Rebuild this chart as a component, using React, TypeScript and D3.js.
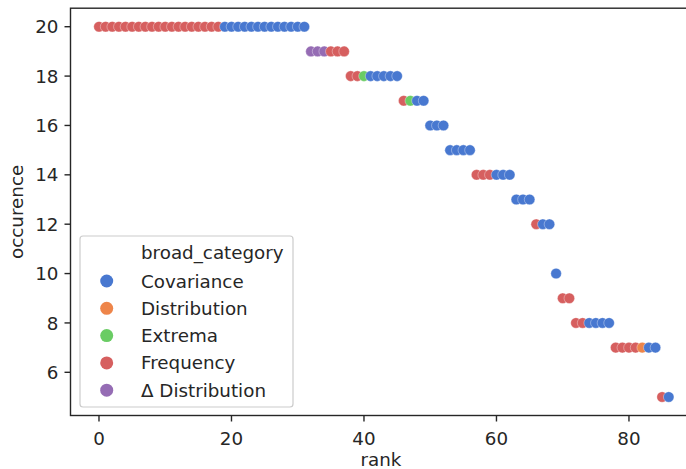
import React from "react";
import * as d3 from "d3";

// Rank of each feature and how often it occurs, with its broad category.
const ranks: number[] = [
  0, 1, 2, 3, 4, 5, 6, 7, 8, 9, 10, 11, 12, 13, 14, 15, 16, 17, 18, 19, 20, 21,
  22, 23, 24, 25, 26, 27, 28, 29, 30, 31, 32, 33, 34, 35, 36, 37, 38, 39, 40, 41,
  42, 43, 44, 45, 46, 47, 48, 49, 50, 51, 52, 53, 54, 55, 56, 57, 58, 59, 60, 61,
  62, 63, 64, 65, 66, 67, 68, 69, 70, 71, 72, 73, 74, 75, 76, 77, 78, 79, 80, 81,
  82, 83, 84, 85, 86,
];

const occurence: number[] = [
  20, 20, 20, 20, 20, 20, 20, 20, 20, 20, 20, 20, 20, 20, 20, 20, 20, 20, 20,
  20, 20, 20, 20, 20, 20, 20, 20, 20, 20, 20, 20, 20,
  19, 19, 19, 19, 19, 19,
  18, 18, 18, 18, 18, 18, 18, 18,
  17, 17, 17, 17,
  16, 16, 16,
  15, 15, 15, 15,
  14, 14, 14, 14, 14, 14,
  13, 13, 13,
  12, 12, 12,
  10,
  9, 9,
  8, 8, 8, 8, 8, 8,
  7, 7, 7, 7, 7, 7, 7,
  5, 5,
];

const broadCategory: string[] = [
  "Frequency", "Frequency", "Frequency", "Frequency", "Frequency", "Frequency",
  "Frequency", "Frequency", "Frequency", "Frequency", "Frequency", "Frequency",
  "Frequency", "Frequency", "Frequency", "Frequency", "Frequency", "Frequency",
  "Frequency",
  "Covariance", "Covariance", "Covariance", "Covariance", "Covariance",
  "Covariance", "Covariance", "Covariance", "Covariance", "Covariance",
  "Covariance", "Covariance", "Covariance",
  "Δ Distribution", "Δ Distribution", "Δ Distribution",
  "Frequency", "Frequency", "Frequency",
  "Frequency", "Frequency", "Extrema",
  "Covariance", "Covariance", "Covariance", "Covariance", "Covariance",
  "Frequency", "Extrema", "Covariance", "Covariance",
  "Covariance", "Covariance", "Covariance",
  "Covariance", "Covariance", "Covariance", "Covariance",
  "Frequency", "Frequency", "Frequency", "Covariance", "Covariance", "Covariance",
  "Covariance", "Covariance", "Covariance",
  "Frequency", "Covariance", "Covariance",
  "Covariance",
  "Frequency", "Frequency",
  "Frequency", "Frequency", "Covariance", "Covariance", "Covariance", "Covariance",
  "Frequency", "Frequency", "Frequency", "Frequency", "Distribution",
  "Covariance", "Covariance",
  "Frequency", "Covariance",
];

const categories: string[] = [
  "Covariance",
  "Distribution",
  "Extrema",
  "Frequency",
  "Δ Distribution",
];
const palette: string[] = ["#4878d0", "#ee854a", "#6acc64", "#d65f5f", "#956cb4"];

const xTicks: number[] = [0, 20, 40, 60, 80];
const yTicks: number[] = [6, 8, 10, 12, 14, 16, 18, 20];

const W = 686;
const H = 469;
const FONT = "'DejaVu Sans', sans-serif";
const FS = 18.3;
const INK = "#262626";

export default function App() {
  const xMin = d3.min(ranks)!;
  const xMax = d3.max(ranks)!;
  const yMin = d3.min(occurence)!;
  const yMax = d3.max(occurence)!;
  const xPad = (xMax - xMin) * 0.05;
  const yPad = (yMax - yMin) * 0.05;

  const x = d3
    .scaleLinear()
    .domain([xMin - xPad, xMax + xPad])
    .range([70.5, 697.2]);
  const y = d3
    .scaleLinear()
    .domain([yMin - yPad, yMax + yPad])
    .range([415.5, 8.2]);
  const color = d3.scaleOrdinal<string, string>().domain(categories).range(palette);

  const [left, right] = x.range();
  const [bottom, top] = y.range();

  const points = ranks.map((r, i) => ({
    r,
    v: occurence[i],
    c: broadCategory[i],
  }));

  const legendX = 80;
  const legendY = 236;
  const rowH = 27.3;

  return (
    <svg
      width={W}
      height={H}
      style={{ position: "absolute", left: 0, top: 0, background: "#fff" }}
      fontFamily={FONT}
    >
      {/* points */}
      <g>
        {points.map((p, i) => (
          <circle
            key={i}
            cx={x(p.r)}
            cy={y(p.v)}
            r={5.3}
            fill={color(p.c)}
            stroke="#fff"
            strokeOpacity={0.6}
            strokeWidth={0.6}
          />
        ))}
      </g>

      {/* frame */}
      <rect
        x={left}
        y={top}
        width={right - left}
        height={bottom - top}
        fill="none"
        stroke={INK}
        strokeWidth={1.4}
      />

      {/* x axis */}
      <g>
        {xTicks.map((t) => (
          <g key={t} transform={`translate(${x(t)},0)`}>
            <line y1={bottom} y2={bottom + 6} stroke={INK} strokeWidth={1.4} />
            <text
              y={bottom + 29}
              textAnchor="middle"
              fontSize={FS}
              fill={INK}
            >
              {t}
            </text>
          </g>
        ))}
        <text x={381} y={466} textAnchor="middle" fontSize={FS} fill={INK}>
          rank
        </text>
      </g>

      {/* y axis */}
      <g>
        {yTicks.map((t) => (
          <g key={t} transform={`translate(0,${y(t)})`}>
            <line x1={left - 6} x2={left} stroke={INK} strokeWidth={1.4} />
            <text
              x={left - 12}
              dy="0.36em"
              textAnchor="end"
              fontSize={FS}
              fill={INK}
            >
              {t}
            </text>
          </g>
        ))}
        <text
          transform={`translate(23,${(top + bottom) / 2}) rotate(-90)`}
          textAnchor="middle"
          fontSize={FS}
          fill={INK}
        >
          occurence
        </text>
      </g>

      {/* legend */}
      <g>
        <rect
          x={legendX}
          y={legendY}
          width={213}
          height={171}
          rx={3}
          fill="#fff"
          fillOpacity={0.8}
          stroke="#cccccc"
          strokeWidth={1.2}
        />
        <text x={141} y={259} fontSize={FS} fill={INK}>
          broad_category
        </text>
        {categories.map((c, i) => (
          <g key={c} transform={`translate(0,${281 + i * rowH})`}>
            <circle cx={106.7} cy={0} r={6.5} fill={color(c)} />
            <text x={141} y={6.5} fontSize={FS} fill={INK}>
              {c}
            </text>
          </g>
        ))}
      </g>
    </svg>
  );
}
